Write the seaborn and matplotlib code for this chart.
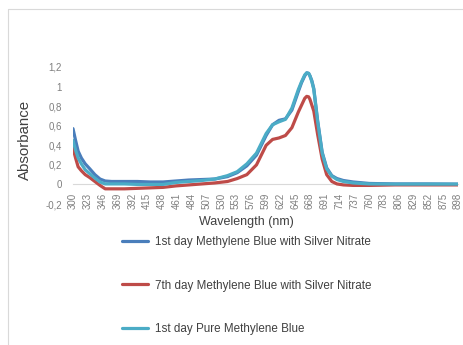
import numpy as np
import pandas as pd
import matplotlib
matplotlib.use("Agg")
import matplotlib.pyplot as plt
from matplotlib.lines import Line2D
import seaborn as sns

# ---- data ----
wavelengths = [300, 304, 308, 313, 319, 326, 334, 342, 350, 360, 380, 400, 420, 440,
               460, 480, 500, 520, 540, 555, 570, 585, 600, 610, 620, 630, 640, 650,
               655, 660, 663, 666, 668, 671, 674, 680, 687, 694, 702, 710, 720, 735,
               760, 800, 850, 898]

day1_mb_agno3 = [0.57, 0.45, 0.34, 0.27, 0.21, 0.16, 0.10, 0.055, 0.035, 0.03, 0.03, 0.03,
                 0.025, 0.025, 0.035, 0.045, 0.05, 0.055, 0.08, 0.12, 0.19, 0.30, 0.50,
                 0.61, 0.655, 0.67, 0.76, 0.95, 1.04, 1.11, 1.14, 1.135, 1.11, 1.06, 0.98,
                 0.65, 0.33, 0.17, 0.09, 0.06, 0.04, 0.025, 0.01, 0.005, 0.005, 0.003]

day7_mb_agno3 = [0.37, 0.27, 0.18, 0.14, 0.10, 0.07, 0.03, -0.01, -0.045, -0.045, -0.045,
                 -0.04, -0.035, -0.03, -0.015, -0.005, 0.005, 0.015, 0.03, 0.06, 0.10,
                 0.20, 0.40, 0.46, 0.475, 0.50, 0.58, 0.74, 0.81, 0.88, 0.90, 0.895, 0.87,
                 0.81, 0.75, 0.51, 0.26, 0.10, 0.03, 0.005, -0.005, -0.01, -0.01, -0.005,
                 -0.005, -0.005]

day1_pure_mb = [0.45, 0.35, 0.27, 0.21, 0.15, 0.11, 0.065, 0.025, 0.005, 0.005, 0.005, 0.0,
                0.0, 0.0, 0.02, 0.03, 0.04, 0.055, 0.09, 0.13, 0.21, 0.32, 0.52, 0.61,
                0.64, 0.665, 0.78, 0.97, 1.05, 1.12, 1.14, 1.135, 1.11, 1.05, 0.97, 0.64,
                0.32, 0.16, 0.085, 0.05, 0.03, 0.015, 0.005, 0.003, 0.003, 0.003]

series_names = ["1st day Methylene Blue with Silver Nitrate",
                "7th day Methylene Blue with Silver Nitrate",
                "1st day Pure Methylene Blue"]
series_colors = ["#4A7EBB", "#BE4B48", "#4BACC6"]

x_tick_values = list(range(300, 899, 23))
y_tick_values = [-0.2, 0, 0.2, 0.4, 0.6, 0.8, 1.0, 1.2]
y_tick_labels = ["-0,2", "0", "0,2", "0,4", "0,6", "0,8", "1", "1,2"]

# ---- build long table ----
frames = []
for name, vals in zip(series_names, [day1_mb_agno3, day7_mb_agno3, day1_pure_mb]):
    frames.append(pd.DataFrame({"Wavelength": wavelengths, "Absorbance": vals, "Series": name}))
df = pd.concat(frames, ignore_index=True)

sns.set_theme(style="white")
plt.rcParams["font.family"] = ["Liberation Sans", "DejaVu Sans"]

W, H = 464, 345
fig = plt.figure(figsize=(W / 100, H / 100), dpi=100)
ax = fig.add_axes([73 / W, (H - 204) / H, (458 - 73) / W, (204 - 67) / H])

sns.lineplot(data=df, x="Wavelength", y="Absorbance", hue="Series",
             hue_order=series_names, palette=series_colors, sort=False,
             linewidth=2.3, ax=ax, legend=False, solid_joinstyle="round",
             solid_capstyle="round")

ax.set_xlim(300, 898)
ax.set_ylim(-0.2, 1.2)
ax.set_xticks(x_tick_values)
ax.set_xticklabels([str(v) for v in x_tick_values])
ax.set_yticks(y_tick_values)
ax.set_yticklabels(y_tick_labels)
ax.tick_params(axis="x", length=0, pad=6.0, labelsize=7, labelcolor="#7f7f7f",
               labelrotation=90)
ax.tick_params(axis="y", length=0, pad=8.0, labelsize=7, labelcolor="#7f7f7f")
ax.set_xlabel("")
ax.set_ylabel("")
for s in ["top", "right", "left"]:
    ax.spines[s].set_visible(False)
ax.spines["bottom"].set_position(("data", 0))
ax.spines["bottom"].set_color("#d9d9d9")
ax.spines["bottom"].set_linewidth(0.8)
ax.spines["bottom"].set_zorder(0)
ax.patch.set_alpha(0)

fig.text(246.7 / W, 1 - 222 / H, "Wavelength (nm)", ha="center", va="center",
         fontsize=9, color="#404040")
fig.text(25 / W, 1 - 140 / H, "Absorbance", ha="center", va="center",
         rotation=90, fontsize=10.8, color="#404040")

handles = [Line2D([0], [0], color=c, lw=2.3) for c in series_colors]
fig.legend(handles, series_names, loc="center left",
           bbox_to_anchor=(122 / W, 1 - 285.5 / H), frameon=False, borderpad=0,
           borderaxespad=0, fontsize=8.4, handlelength=2.23, handletextpad=0.6,
           labelspacing=2.72, labelcolor="#404040")

# chart border (light grey)
fig.add_artist(Line2D([8 / W, 8 / W], [0, 1 - 9 / H], transform=fig.transFigure,
                      color="#d9d9d9", lw=0.8))
fig.add_artist(Line2D([8 / W, 1], [1 - 9 / H, 1 - 9 / H], transform=fig.transFigure,
                      color="#d9d9d9", lw=0.8))

fig.savefig("out.png", dpi=100)
